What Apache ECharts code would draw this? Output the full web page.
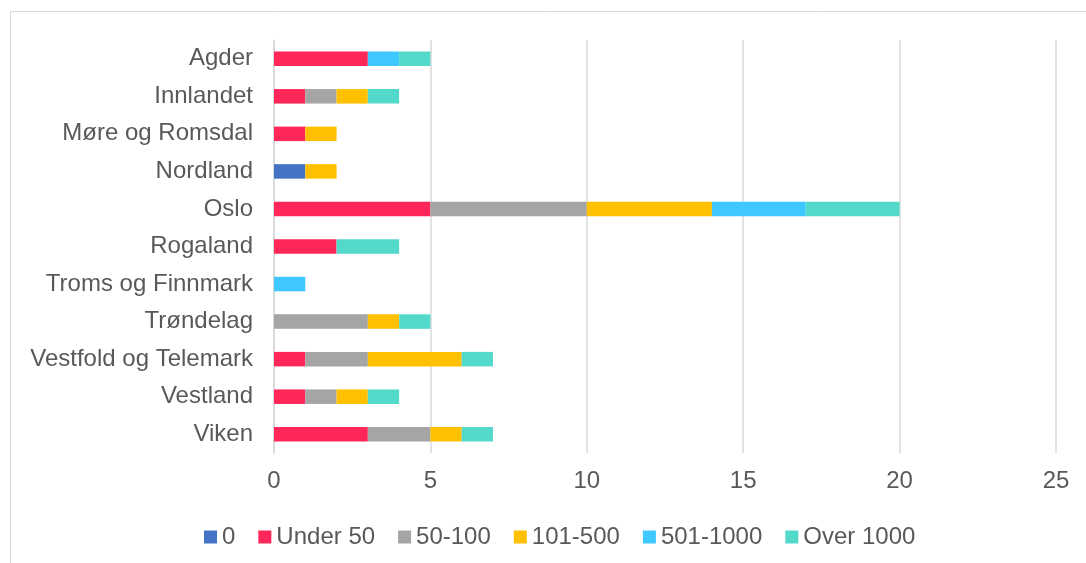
<!DOCTYPE html>
<html>
<head>
<meta charset="utf-8">
<script src="https://cdn.jsdelivr.net/npm/echarts@6/dist/echarts.min.js"></script>
<style>
  html, body { margin: 0; padding: 0; background: #fff; }
  #chart { width: 1086px; height: 563px; }
</style>
</head>
<body>
<div id="chart"></div>
<script>
var regions = ["Agder", "Innlandet", "Møre og Romsdal", "Nordland", "Oslo", "Rogaland",
  "Troms og Finnmark", "Trøndelag", "Vestfold og Telemark", "Vestland", "Viken"];
var xTicks = [0, 5, 10, 15, 20, 25];

var s0 =        [0, 0, 0, 1, 0, 0, 0, 0, 0, 0, 0];
var under50 =   [3, 1, 1, 0, 5, 2, 0, 0, 1, 1, 3];
var s50_100 =   [0, 1, 0, 0, 5, 0, 0, 3, 2, 1, 2];
var s101_500 =  [0, 1, 1, 1, 4, 0, 0, 1, 3, 1, 1];
var s501_1000 = [1, 0, 0, 0, 3, 0, 1, 0, 0, 0, 0];
var over1000 =  [1, 1, 0, 0, 3, 2, 0, 1, 1, 1, 1];

var seriesNames = ["0", "Under 50", "50-100", "101-500", "501-1000", "Over 1000"];
var seriesData = [s0, under50, s50_100, s101_500, s501_1000, over1000];
var colors = ["#4472C4", "#FF2659", "#A5A5A5", "#FFC000", "#3FC8FF", "#53D9CA"];

var chart = echarts.init(document.getElementById("chart"));
var font = "'Liberation Sans', Arial, sans-serif";

var series = seriesNames.map(function (name, i) {
  return {
    name: name,
    type: "bar",
    stack: "total",
    barWidth: 14.5,
    itemStyle: { color: colors[i] },
    data: seriesData[i].map(function (v) { return v === 0 ? null : v; })
  };
});

var option = {
  animation: false,
  color: colors,
  textStyle: { fontFamily: font },
  graphic: [{
    type: "rect",
    shape: { x: 10.5, y: 11.5, width: 1200, height: 700 },
    style: { fill: null, stroke: "#d9d9d9", lineWidth: 1 },
    silent: true
  }],
  grid: { left: 274, right: 30, top: 40, bottom: 110 },
  legend: {
    data: seriesNames,
    left: 199,
    top: 520,
    icon: "rect",
    itemWidth: 13,
    itemHeight: 13,
    itemGap: 23,
    textStyle: { color: "#595959", fontSize: 24, fontFamily: font }
  },
  xAxis: {
    type: "value",
    min: xTicks[0],
    max: xTicks[xTicks.length - 1],
    interval: 5,
    axisLine: { show: false },
    axisTick: { show: false },
    splitLine: { lineStyle: { color: "#d9d9d9", width: 1.5 } },
    axisLabel: { color: "#595959", fontSize: 24, margin: 16, fontFamily: font }
  },
  yAxis: {
    type: "category",
    data: regions,
    inverse: true,
    axisLine: { show: true, lineStyle: { color: "#d9d9d9", width: 1.5 } },
    axisTick: { show: false },
    axisLabel: { color: "#595959", fontSize: 24, margin: 21, fontFamily: font }
  },
  series: series
};
chart.setOption(option);
</script>
</body>
</html>
